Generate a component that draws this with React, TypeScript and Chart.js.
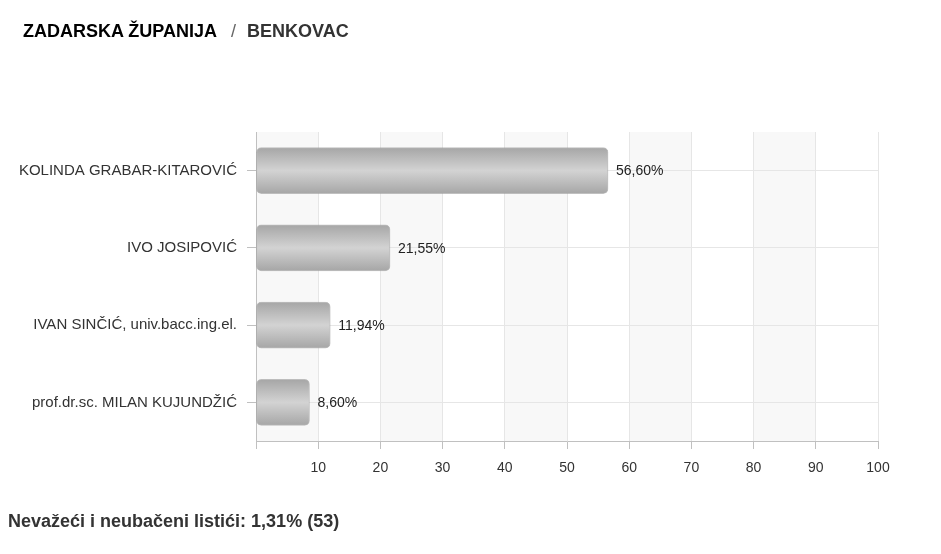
import React, { useEffect, useRef } from 'react';
import { Chart, registerables } from 'chart.js';

Chart.register(...registerables);

const titleRegion = 'ZADARSKA ŽUPANIJA';
const titleCity = 'BENKOVAC';
const candidates = [
  'KOLINDA GRABAR-KITAROVIĆ',
  'IVO JOSIPOVIĆ',
  'IVAN SINČIĆ, univ.bacc.ing.el.',
  'prof.dr.sc. MILAN KUJUNDŽIĆ',
];
const percentages = [56.6, 21.55, 11.94, 8.6];
const axisMin = 0;
const axisMax = 100;
const axisStep = 10;
const invalidLabel = 'Nevažeći i neubačeni listići';
const invalidPercent = 1.31;
const invalidCount = 53;

const FONT = '"Liberation Sans", Arial, Helvetica, sans-serif';
const fmt = (v: number) => v.toFixed(2).replace('.', ',') + '%';

const bandPlugin = {
  id: 'bands',
  beforeDraw(chart: any) {
    const { ctx, chartArea, scales } = chart;
    const x = scales.x;
    if (!chartArea || !x) return;
    const ticks = x.ticks;
    ctx.save();
    ctx.fillStyle = '#f8f8f8';
    for (let i = 0; i < ticks.length - 1; i += 2) {
      const x0 = x.getPixelForValue(ticks[i].value);
      const x1 = x.getPixelForValue(ticks[i + 1].value);
      ctx.fillRect(x0, chartArea.top, x1 - x0, chartArea.bottom - chartArea.top);
    }
    ctx.restore();
  },
};

const labelPlugin = {
  id: 'barLabels',
  afterDatasetsDraw(chart: any) {
    const { ctx } = chart;
    const meta = chart.getDatasetMeta(0);
    ctx.save();
    ctx.font = `14px ${FONT}`;
    ctx.fillStyle = '#222';
    ctx.textAlign = 'left';
    ctx.textBaseline = 'middle';
    meta.data.forEach((bar: any, i: number) => {
      ctx.fillText(fmt(percentages[i]), bar.x + 8, bar.y + 1);
    });
    ctx.restore();
  },
};

export default function App() {
  const ref = useRef<HTMLCanvasElement>(null);

  useEffect(() => {
    if (!ref.current) return;
    const chart = new Chart(ref.current, {
      type: 'bar',
      data: {
        labels: candidates,
        datasets: [
          {
            data: percentages,
            backgroundColor: (c: any) => {
              const ch = c.chart;
              const y = ch.scales && ch.scales.y;
              if (!ch.chartArea || !y || c.type !== 'data') return '#bdbdbd';
              const cy = y.getPixelForValue(c.dataIndex);
              const g = ch.ctx.createLinearGradient(0, cy - 23, 0, cy + 23);
              g.addColorStop(0, '#a6a6a6');
              g.addColorStop(0.5, '#d3d3d3');
              g.addColorStop(1, '#a6a6a6');
              return g;
            },
            borderColor: 'rgba(150,150,150,0.6)',
            borderWidth: 1,
            borderRadius: 5,
            borderSkipped: false,
            barThickness: 46,
          },
        ],
      },
      options: {
        indexAxis: 'y',
        responsive: false,
        animation: false,
        layout: { padding: { left: 0, top: 132, right: 63, bottom: 73 } },
        plugins: { legend: { display: false }, tooltip: { enabled: false } },
        scales: {
          x: {
            min: axisMin,
            max: axisMax,
            ticks: {
              stepSize: axisStep,
              padding: 11,
              color: '#333',
              font: { family: FONT, size: 14 },
              maxRotation: 0,
              callback: (v: any) => (v === 0 ? '' : String(v)),
            },
            grid: { color: '#e6e6e6', tickColor: '#c0c0c0', tickLength: 8 },
            border: { color: '#c0c0c0' },
            afterFit: (s: any) => {
              s.height = 40;
            },
          },
          y: {
            ticks: { padding: 10, color: '#333', font: { family: FONT, size: 15 } },
            grid: { offset: false, color: '#e6e6e6', tickColor: '#c0c0c0', tickLength: 9 },
            border: { color: '#c0c0c0' },
            afterFit: (s: any) => {
              s.width = 256;
            },
          },
        },
      } as any,
      plugins: [bandPlugin, labelPlugin],
    });
    return () => chart.destroy();
  }, []);

  return (
    <div style={{ position: 'absolute', left: 0, top: 0, width: 941, height: 554, background: '#fff' }}>
      <canvas
        ref={ref}
        width={941}
        height={554}
        style={{ position: 'absolute', left: 0, top: 0, width: 941, height: 554 }}
      />
      <div
        style={{
          position: 'absolute',
          left: 23,
          top: 22,
          fontFamily: FONT,
          fontWeight: 'bold',
          fontSize: 18,
          lineHeight: '18px',
          whiteSpace: 'nowrap',
          color: '#000',
        }}
      >
        <span>{titleRegion}</span>
        <span style={{ color: '#666', fontWeight: 'normal', marginLeft: 14, marginRight: 11 }}>/</span>
        <span style={{ color: '#333' }}>{titleCity}</span>
      </div>
      <div
        style={{
          position: 'absolute',
          left: 8,
          top: 512,
          fontFamily: FONT,
          fontWeight: 'bold',
          fontSize: 18,
          lineHeight: '18px',
          whiteSpace: 'nowrap',
          color: '#333',
        }}
      >
        {`${invalidLabel}: ${fmt(invalidPercent)} (${invalidCount})`}
      </div>
    </div>
  );
}
